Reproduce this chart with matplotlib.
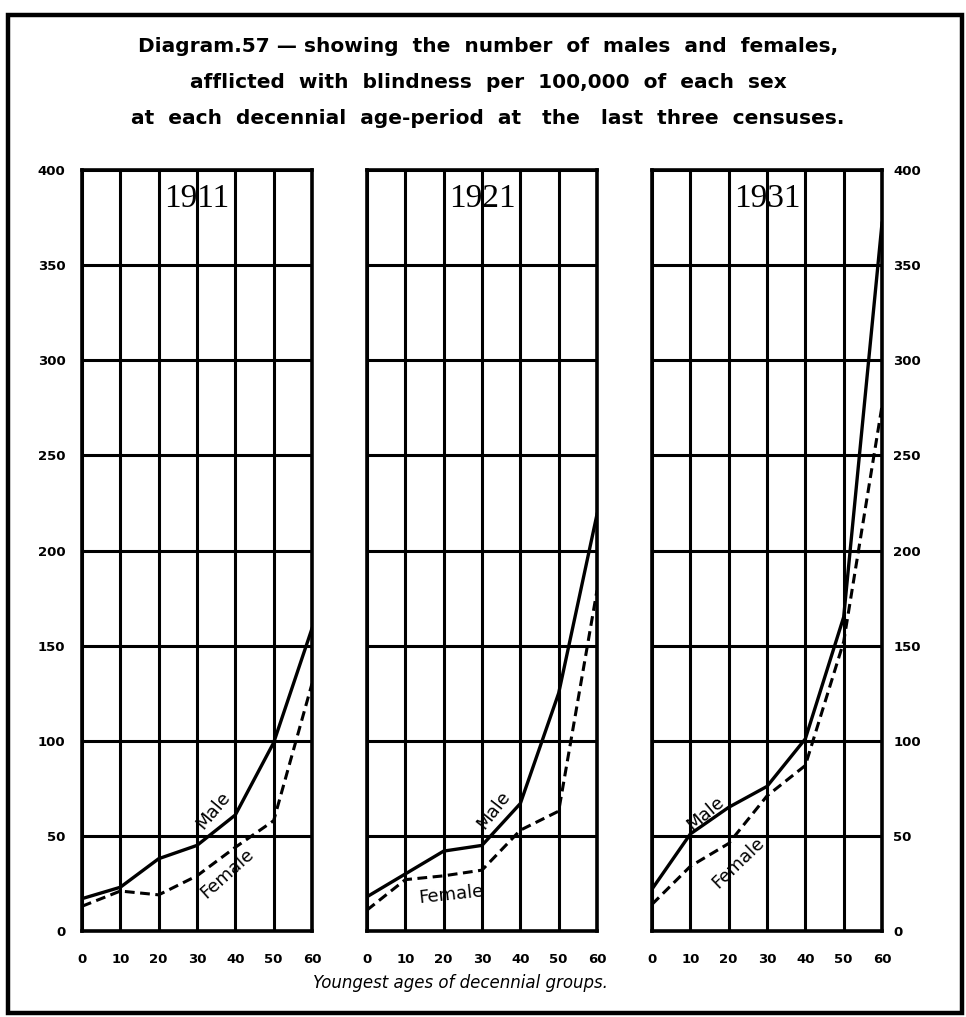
import matplotlib.pyplot as plt
import matplotlib.patches as patches

# Youngest age of each decennial group
ages = [0, 10, 20, 30, 40, 50, 60]

# Blind per 100,000 of each sex
male_1911 = [17, 23, 38, 45, 61, 99, 159]
female_1911 = [13, 21, 19, 29, 44, 58, 130]

male_1921 = [18, 30, 42, 45, 67, 125, 219]
female_1921 = [11, 27, 29, 32, 53, 63, 179]

male_1931 = [22, 51, 65, 76, 101, 165, 372]
female_1931 = [14, 34, 46, 71, 87, 152, 276]

years = ["1911", "1921", "1931"]
y_ticks = [0, 50, 100, 150, 200, 250, 300, 350, 400]

W, H = 966, 1017
fig = plt.figure(figsize=(W / 100, H / 100), dpi=100)
fig.patch.set_facecolor('white')

# outer border
fig.add_artist(patches.Rectangle((8 / W, 1 - 1013 / H), 954 / W, 998 / H,
                                 transform=fig.transFigure, fill=False,
                                 edgecolor='black', lw=3.2))

title_lines = [
    "Diagram.57 \u2014 showing  the  number  of  males  and  females,",
    "afflicted  with  blindness  per  100,000  of  each  sex",
    "at  each  decennial  age-period  at   the   last  three  censuses.",
]
for k, line in enumerate(title_lines):
    fig.text(488 / W, 1 - (47 + 35.5 * k) / H, line, ha='center', va='center',
             fontsize=14.5, fontweight='bold', family='DejaVu Sans')

panels = [
    (82, male_1911, female_1911, (34.2, 63.6, 50), (37.8, 30.5, 42)),
    (367, male_1921, female_1921, (33.0, 63.6, 52), (22.0, 19.0, 6)),
    (652, male_1931, female_1931, (13.9, 62.0, 40), (22.6, 35.7, 44)),
]

top_px, bot_px = 170, 931
for i, (left, male, female, mlab, flab) in enumerate(panels):
    ax = fig.add_axes([left / W, 1 - bot_px / H, 230 / W, (bot_px - top_px) / H])
    ax.set_xlim(0, 60)
    ax.set_ylim(0, 400)
    ax.set_xticks(ages)
    ax.set_yticks(y_ticks)
    ax.grid(True, color='black', lw=2.2)
    ax.set_axisbelow(True)
    for s in ax.spines.values():
        s.set_linewidth(2.6)
    if i == 2:
        ax.yaxis.tick_right()
    ax.tick_params(length=0, labelsize=9.5, pad=16)
    if i == 0:
        ax.tick_params(axis='y', pad=12)
    elif i == 2:
        ax.tick_params(axis='y', pad=8)
    else:
        ax.set_yticklabels([])
    for lab in ax.get_xticklabels() + ax.get_yticklabels():
        lab.set_fontweight('bold')

    ax.plot(ages, male, color='black', lw=2.4, solid_joinstyle='round')
    ax.plot(ages, female, color='black', lw=2.2, dashes=(3.2, 1.8))

    ax.text(30, 385, years[i], ha='center', va='center', fontsize=24,
            family='Liberation Serif', zorder=1)
    ax.text(mlab[0], mlab[1], "Male", rotation=mlab[2], ha='center', va='center',
            fontsize=13, rotation_mode='anchor')
    ax.text(flab[0], flab[1], "Female", rotation=flab[2], ha='center', va='center',
            fontsize=13, rotation_mode='anchor')

fig.text(460 / W, 1 - 983 / H, "Youngest ages of decennial groups.",
         ha='center', va='center', fontsize=12, style='italic')

fig.savefig('out.png', dpi=100, facecolor='white')
